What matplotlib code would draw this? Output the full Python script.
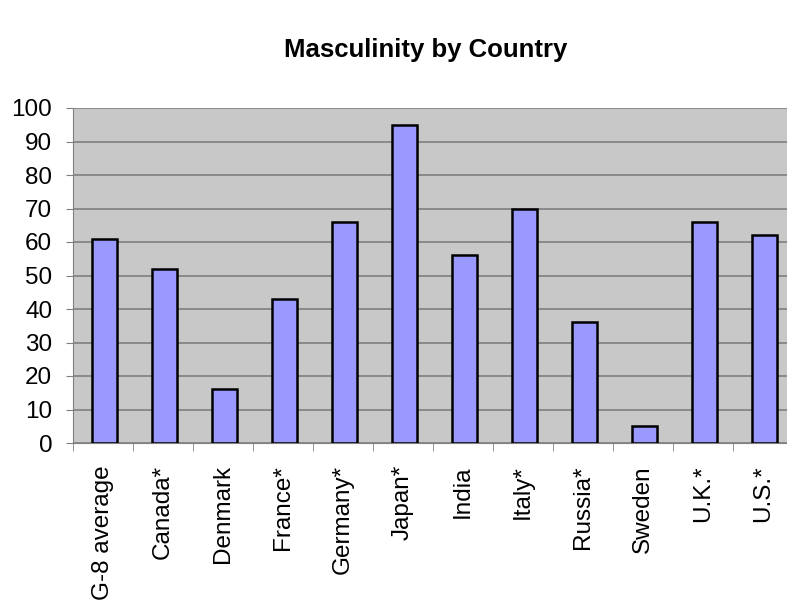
import numpy as np
import matplotlib.pyplot as plt

countries = ['G-8 average', 'Canada*', 'Denmark', 'France*', 'Germany*', 'Japan*',
             'India', 'Italy*', 'Russia*', 'Sweden', 'U.K.*', 'U.S.*']
masculinity = [61, 52, 16, 43, 66, 95, 56, 70, 36, 5, 66, 62]

plt.rcParams['font.family'] = ['Liberation Sans', 'DejaVu Sans']

fig = plt.figure(figsize=(7.87, 6.09), dpi=100)
ax = fig.add_axes([73 / 787, 1 - 443 / 609, 720 / 787, 335 / 609])

x = np.arange(len(countries))
ax.set_facecolor('#c8c8c8')
ax.bar(x + 0.03, masculinity, width=0.42, color='#9999ff', edgecolor='black',
       linewidth=1.8, zorder=3)

ax.set_xlim(-0.5, len(countries) - 0.5)
ax.set_ylim(0, 100)
ax.set_yticks(range(0, 101, 10))
ax.yaxis.grid(True, color='#858585', linewidth=1.3, zorder=0)

ax.set_xticks(x)
ax.set_xticklabels(countries, rotation=90, fontsize=17.5)
ax.set_xticks(np.arange(-0.5, len(countries), 1), minor=True)
ax.tick_params(axis='x', which='major', length=0, pad=16)
ax.tick_params(axis='x', which='minor', length=6, color='#808080')
ax.tick_params(axis='y', length=5, color='#808080', labelsize=17.5, pad=10)

for side in ['top', 'right']:
    ax.spines[side].set_visible(False)
ax.spines['left'].set_color('#808080')
ax.spines['bottom'].set_color('#808080')

fig.text(426 / 787, 1 - 50 / 609, 'Masculinity by Country', ha='center',
         va='center', fontsize=18.5, fontweight='bold')

fig.savefig('out.png', dpi=100)
